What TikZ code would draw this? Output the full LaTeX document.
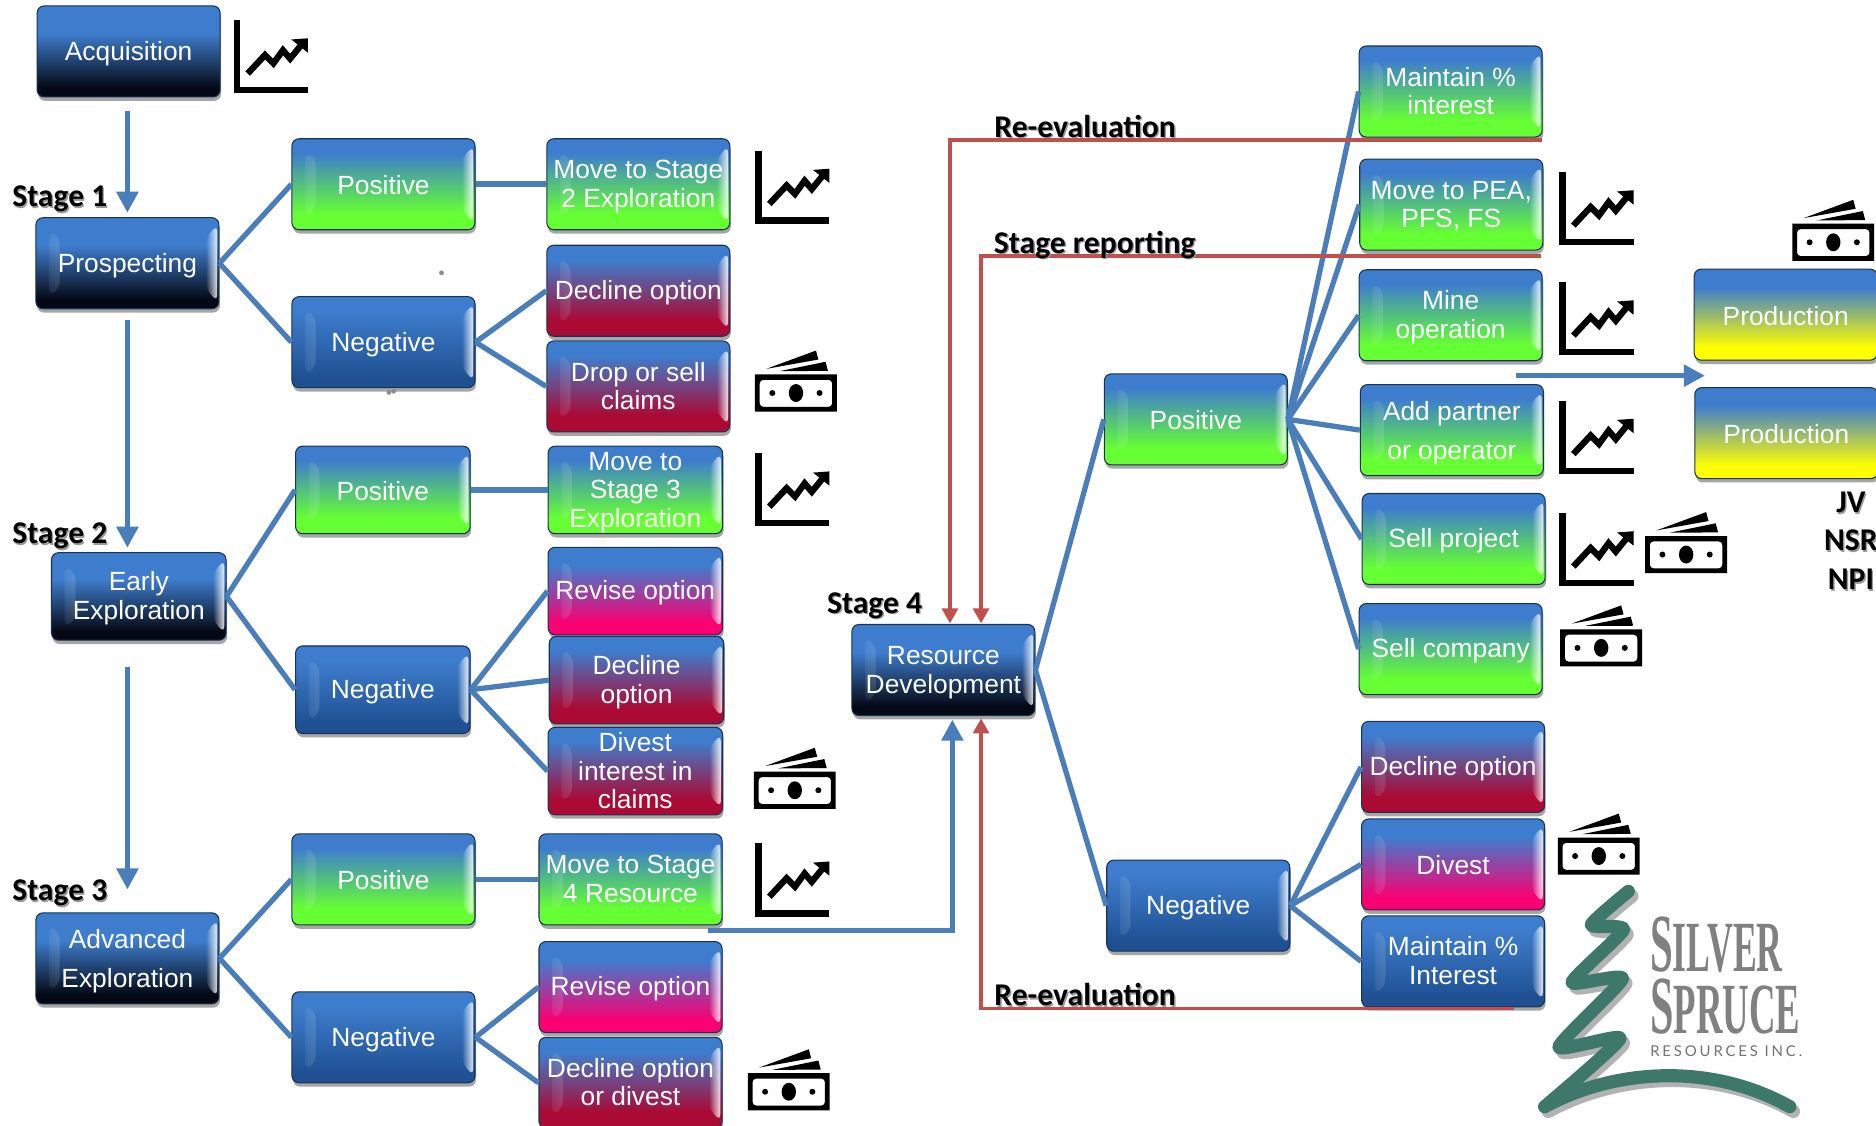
\documentclass[tikz,border=0pt]{standalone}
\usepackage{fontspec}
\setmainfont{Liberation Sans}
\newfontfamily\labelfont{Carlito}
\newfontfamily\logoserif{Liberation Serif}
\newfontfamily\logosans[LetterSpace=19]{Lato}
\usetikzlibrary{arrows.meta,calc,shadows,fadings}

\definecolor{boxblue}{RGB}{62,125,205}
\definecolor{boxnavy}{RGB}{4,8,20}
\definecolor{boxdeep}{RGB}{30,80,146}
\definecolor{boxgreen}{RGB}{102,255,51}
\definecolor{boxcrimson}{RGB}{170,10,52}
\definecolor{boxpink}{RGB}{250,0,115}
\definecolor{boxyellow}{RGB}{255,255,0}
\definecolor{linkblue}{RGB}{74,126,187}
\definecolor{linkred}{RGB}{192,80,77}
\definecolor{sprucegreen}{RGB}{62,120,106}

\pgfdeclareverticalshading{navyfade}{100bp}{color(0bp)=(boxnavy); color(30bp)=(boxnavy); color(60bp)=(boxblue); color(100bp)=(boxblue)}
\pgfdeclareverticalshading{deepfade}{100bp}{color(0bp)=(boxdeep); color(30bp)=(boxdeep); color(67bp)=(boxblue); color(100bp)=(boxblue)}
\pgfdeclareverticalshading{greenfade}{100bp}{color(0bp)=(boxgreen); color(34bp)=(boxgreen); color(67bp)=(boxblue); color(100bp)=(boxblue)}
\pgfdeclareverticalshading{crimsonfade}{100bp}{color(0bp)=(boxcrimson); color(34bp)=(boxcrimson); color(67bp)=(boxblue); color(100bp)=(boxblue)}
\pgfdeclareverticalshading{pinkfade}{100bp}{color(0bp)=(boxpink); color(32bp)=(boxpink); color(65bp)=(boxblue); color(100bp)=(boxblue)}
\pgfdeclareverticalshading{yellowfade}{100bp}{color(0bp)=(boxyellow); color(32bp)=(boxyellow); color(65bp)=(boxblue); color(100bp)=(boxblue)}

\newcommand{\softshadow}[1]{\rlap{\raisebox{-1pt}{\hspace{.8pt}\textcolor{black!40}{#1}}}#1}
\newcommand{\linestrut}{\rule[-1.3pt]{0pt}{14.5pt}}
\newcommand{\sprucepath}{plot[smooth,tension=.35] coordinates {(1361,745) (1330,773) (1357,777) (1314,821) (1356,818) (1303,875) (1354,868) (1291,925)} .. controls (1350,893) and (1430,888) .. (1496,925)}

\tikzset{
  flowbox/.style={rectangle,rounded corners=4pt,draw=black!60!boxblue,line width=.6pt,
    minimum width=3.66cm,minimum height=1.82cm,inner sep=0pt,align=center,text=white,
    font=\fontsize{15}{16.3}\selectfont,
    execute at begin node=\linestrut,execute at end node=\linestrut,
    drop shadow={shadow xshift=.6pt,shadow yshift=-2.2pt,opacity=.35,fill=black}},
  slim/.style={minimum width=3.49cm,minimum height=1.75cm},
  twolines/.style={text height=27.4pt,text depth=1pt},
  widelines/.style={text height=34.2pt,text depth=1pt},
  threelines/.style={text height=43.8pt,text depth=1pt},
  bevel/.style={path picture={
    \fill[white,opacity=1,path fading=west]
      ([shift={(7.5pt,-7.5pt)}]path picture bounding box.north west) -- ++(6pt,-4pt)
      -- ([shift={(13.5pt,11.5pt)}]path picture bounding box.south west) -- ++(-6pt,-4pt) -- cycle;
    \fill[white,opacity=.85,path fading=west]
      ([shift={(-1pt,-4pt)}]path picture bounding box.north east) -- ++(-6.5pt,-7.5pt)
      -- ([shift={(-7.5pt,11.5pt)}]path picture bounding box.south east) -- ++(6.5pt,-7.5pt) -- cycle;}},
  acqbox/.style={flowbox,shade,shading=navyfade},
  stagebox/.style={acqbox,bevel},
  negbox/.style={flowbox,bevel,shade,shading=deepfade},
  posbox/.style={flowbox,bevel,shade,shading=greenfade},
  dropbox/.style={flowbox,bevel,shade,shading=crimsonfade},
  revbox/.style={flowbox,bevel,shade,shading=pinkfade},
  prodbox/.style={flowbox,shade,shading=yellowfade},
  link/.style={linkblue,line width=3pt},
  flow/.style={linkblue,line width=3pt,-{Triangle[length=12pt,width=12pt]}},
  review/.style={linkred,line width=1.9pt,-{Triangle[length=8.5pt,width=9pt]}},
  stagelabel/.style={font=\labelfont\bfseries\fontsize{18}{22}\selectfont,inner sep=0pt,text height=14pt,text depth=2.4pt},
  chart/.pic={
    \draw[line width=3.6pt,line cap=butt] (2,0) -- (2,58.4) -- (61.3,58.4);
    \draw[line width=3.6pt] (11,44.5) -- (25.5,29) -- (32.5,36) -- (40.5,25) -- (46.5,32) -- (55.5,21);
    \fill (47.5,16) -- (61.3,15) -- (61.3,27) -- cycle;
  },
  cash/.pic={
    \fill[even odd rule] (0,0) rectangle (68.5,31)
      [rounded corners=2pt] (4,4.5) rectangle (64.5,27);
    \fill (34.3,15.5) ellipse (6 and 7.5);
    \fill (14.5,15.5) circle (2.5);
    \fill (54,15.5) circle (2.5);
    \fill (9.5,-4.7) -- (51,-20) -- (53,-12.5) -- cycle;
    \fill (20.6,-2.8) -- (59,-10.6) -- (61,-3) -- cycle;
  }
}

\begin{document}
\begin{tikzpicture}[x=0.02393cm,y=-0.02393cm]
  \useasboundingbox (0,0) rectangle (1568,940.3);

  % left column
  \node[acqbox] (acq) at (107.5,43) {Acquisition};
  \node[stagebox] (pros) at (106.5,220) {Prospecting};
  \node[stagebox,slim,twolines] (early) at (116,498.5) {Early\\Exploration};
  \node[stagebox,widelines] (adv) at (106.5,801) {Advanced\\[6pt]Exploration};

  % stage 1
  \node[posbox] (pos1) at (320.5,154) {Positive};
  \node[negbox] (neg1) at (320.5,286) {Negative};
  \node[posbox,twolines] (move1) at (533.5,154) {Move to Stage\\2 Exploration};
  \node[dropbox] (dec1) at (533.5,243) {Decline option};
  \node[dropbox,twolines] (drop1) at (533.5,323) {Drop or sell\\claims};

  % stage 2
  \node[posbox,slim] (pos2) at (320,409.5) {Positive};
  \node[negbox,slim] (neg2) at (320,576.5) {Negative};
  \node[posbox,slim,threelines] (move2) at (531,409.5) {Move to\\Stage 3\\Exploration};
  \node[revbox,slim] (rev2) at (531,494) {Revise option};
  \node[dropbox,slim,twolines] (dec2) at (532,568.5) {Decline\\option};
  \node[dropbox,slim,threelines] (div2) at (531,644.5) {Divest\\interest in\\claims};

  % stage 3
  \node[posbox] (pos3) at (320.5,735) {Positive};
  \node[negbox] (neg3) at (320.5,867) {Negative};
  \node[posbox,twolines] (move3) at (527,735) {Move to Stage\\4 Resource};
  \node[revbox] (rev3) at (527,825) {Revise option};
  \node[dropbox,twolines] (dec3) at (527,905) {Decline option\\or divest};

  % stage 4
  \node[stagebox,twolines] (res) at (788.5,560) {Resource\\Development};
  \node[posbox] (pos4) at (999.5,350.5) {Positive};
  \node[negbox] (neg4) at (1001.5,757) {Negative};
  \node[posbox,twolines] (keep4) at (1212.5,76.5) {Maintain \%\\interest};
  \node[posbox,twolines] (pea4) at (1213,171) {Move to PEA,\\PFS, FS};
  \node[posbox,twolines] (mine4) at (1212.5,263.5) {Mine\\operation};
  \node[posbox,widelines] (add4) at (1213.5,359.5) {Add partner\\[6pt]or operator};
  \node[posbox] (sellp4) at (1215,450.5) {Sell project};
  \node[posbox] (sellc4) at (1212.5,542.5) {Sell company};
  \node[dropbox] (dec4) at (1214.5,641) {Decline option};
  \node[revbox] (div4) at (1214.5,722.5) {Divest};
  \node[negbox,twolines] (int4) at (1214.5,803.5) {Maintain \%\\Interest};

  % production
  \node[prodbox] (prod1) at (1492.5,263) {Production};
  \node[prodbox] (prod2) at (1493,362) {Production};

  % links
  \draw[link] (pros.east) -- (pos1.west);
  \draw[link] (pros.east) -- (neg1.west);
  \draw[link,line width=3.6pt] (pos1.east) -- (move1.west);
  \draw[link] (neg1.east) -- (dec1.west);
  \draw[link] (neg1.east) -- (drop1.west);
  \draw[link] (early.east) -- (pos2.west);
  \draw[link] (early.east) -- (neg2.west);
  \draw[link] (pos2.east) -- (move2.west);
  \draw[link] (neg2.east) -- (rev2.west);
  \draw[link] (neg2.east) -- (dec2.west);
  \draw[link] (neg2.east) -- (div2.west);
  \draw[link] (adv.east) -- (pos3.west);
  \draw[link] (adv.east) -- (neg3.west);
  \draw[link] (pos3.east) -- (move3.west);
  \draw[link] (neg3.east) -- (rev3.west);
  \draw[link] (neg3.east) -- (dec3.west);
  \draw[link] (res.east) -- (pos4.west);
  \draw[link] (res.east) -- (neg4.west);
  \draw[link] (pos4.east) -- (keep4.west);
  \draw[link] (pos4.east) -- (pea4.west);
  \draw[link] (pos4.east) -- (mine4.west);
  \draw[link] (pos4.east) -- (add4.west);
  \draw[link] (pos4.east) -- (sellp4.west);
  \draw[link] (pos4.east) -- (sellc4.west);
  \draw[link] (neg4.east) -- (dec4.west);
  \draw[link] (neg4.east) -- (div4.west);
  \draw[link] (neg4.east) -- (int4.west);

  % stage arrows
  \draw[flow,shorten <=7.5pt,shorten >=2.5pt] (pros.north |- acq.south) -- (pros.north);
  \draw[flow,shorten <=6pt,shorten >=2.5pt] (pros.south) -- (pros.south |- early.north);
  \draw[flow,shorten <=15pt,shorten >=13pt] (pros.south |- early.south) -- (adv.north);
  \coordinate (movestart) at (592,778);
  \draw[flow] (movestart) -| ($(res.south)+(7.5,3)$);
  \coordinate (prodstart) at (1267,314);
  \coordinate (prodend) at (1425,314);
  \draw[flow] (prodstart) -- (prodend);

  % review lines
  \coordinate (reviewa) at (1289,117);
  \coordinate (reviewb) at (1288,214);
  \coordinate (reviewc) at (1265,843);
  \draw[review] (reviewa) -| ($(res.north)+(5.5,-0.5)$);
  \draw[review] (reviewb) -| ($(res.north)+(31.5,-0.5)$);
  \draw[review] (reviewc) -| ($(res.south)+(31.5,2)$);

  % labels
  \node[stagelabel] (lab1) at (50,164) {\softshadow{Stage 1}};
  \node[stagelabel] (lab2) at (50,446) {\softshadow{Stage 2}};
  \node[stagelabel] (lab3) at (50,744) {\softshadow{Stage 3}};
  \node[stagelabel] (lab4) at (731,504) {\softshadow{Stage 4}};
  \node[stagelabel] (rev1) at (907,106) {\softshadow{Re-evaluation}};
  \node[stagelabel] (rep1) at (915,203) {\softshadow{Stage reporting}};
  \node[stagelabel] (rev4) at (907,832) {\softshadow{Re-evaluation}};
  \node[stagelabel] (jv) at (1547,420) {\softshadow{JV}};
  \node[stagelabel] (nsr) at (1547,452) {\softshadow{NSR}};
  \node[stagelabel] (npi) at (1547,484) {\softshadow{NPI}};

  % icons
  \pic at (196,17) {chart};
  \pic at (632,126) {chart};
  \pic at (632,379) {chart};
  \pic at (632,705) {chart};
  \pic at (1304,144) {chart};
  \pic at (1304,236) {chart};
  \pic at (1304,335) {chart};
  \pic at (1304,429) {chart};
  \pic at (631,313) {cash};
  \pic at (630,645) {cash};
  \pic at (625,897) {cash};
  \pic at (1498,187) {cash};
  \pic at (1375,448) {cash};
  \pic at (1304,526) {cash};
  \pic at (1302,700) {cash};

  % stray dots
  \fill[black!45] (369,228) circle (2) (325,328) circle (2) (329,327) circle (2);

  % logo
  \draw[black!30,line width=7.5pt,line cap=round,line join=round,shift={(3,4)}] \sprucepath;
  \draw[sprucegreen,line width=7.5pt,line cap=round,line join=round] \sprucepath;
  \node[anchor=base west,inner sep=0pt,text=black!50,font=\logoserif\bfseries] (silver) at (1379,812)
    {\scalebox{.495}[1]{\fontsize{47}{47}\selectfont S\fontsize{41}{41}\selectfont ILVER}};
  \node[anchor=base west,inner sep=0pt,text=black!50,font=\logoserif\bfseries] (spruce) at (1379,864)
    {\scalebox{.51}[1]{\fontsize{47}{47}\selectfont S\fontsize{41}{41}\selectfont PRUCE}};
  \node[anchor=base west,inner sep=0pt,text=black!55,font=\logosans\fontsize{8.5}{10}\selectfont] (resinc) at (1379,883)
    {RESOURCES INC.};
\end{tikzpicture}
\end{document}
